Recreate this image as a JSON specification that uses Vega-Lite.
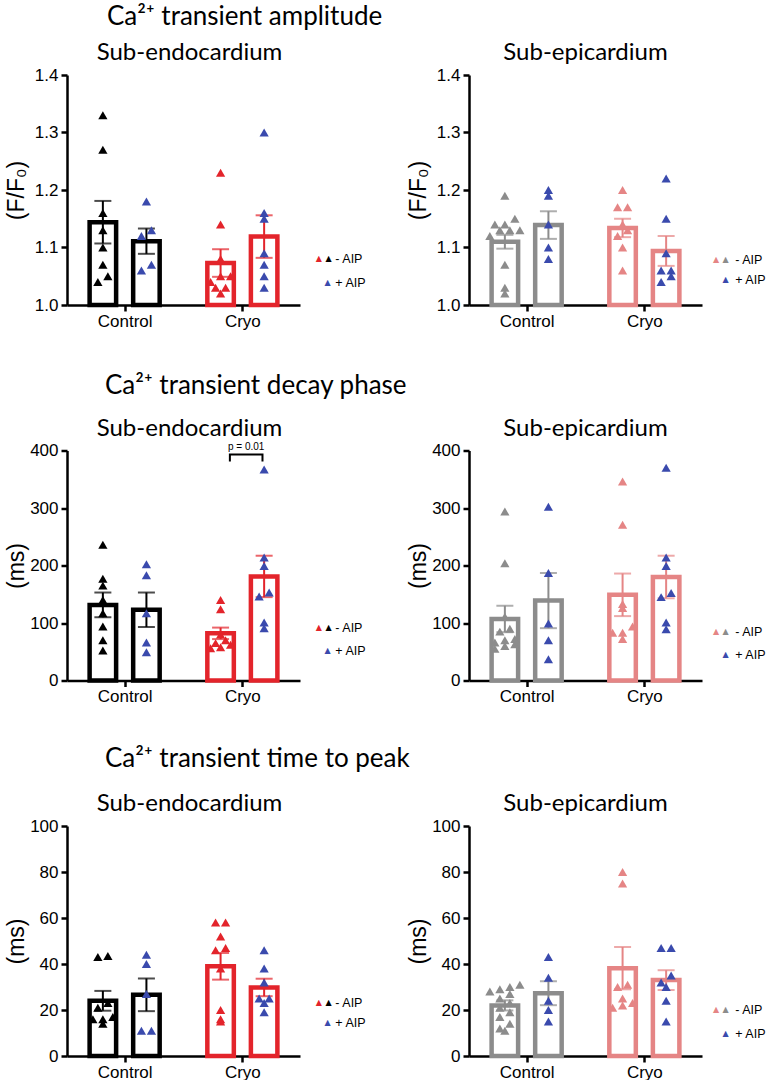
{
"$schema": "https://vega.github.io/schema/vega-lite/v6.json",
"background": "white",
"padding": {"left": 5, "top": 4, "right": 0, "bottom": 0},
"bounds": "flush",
"spacing": 375.5,
"config": {
  "view": {"stroke": null},
  "font": "Liberation Sans",
  "axis": {"grid": false, "domainColor": "#000", "domainWidth": 2.5, "tickColor": "#000", "tickWidth": 2.5, "tickSize": 6, "labelColor": "#000", "labelFont": "Liberation Sans", "labelFontSize": 17, "titleColor": "#000", "titleFont": "Liberation Sans", "titleFontSize": 23, "titleFontWeight": "normal"},
  "axisX": {"labelAngle": 0, "labelPadding": 2},
  "axisY": {"labelPadding": 3, "titlePadding": 1, "minExtent": 38, "maxExtent": 38},
  "title": {"font": "Lato", "fontSize": 24, "fontWeight": "normal", "color": "#000", "offset": 1}
},
"datasets": {
  "bars": [
    {"measure":"amp","region":"endo","group":"Control","aip":"-AIP","mean":1.144,"sem":0.037},
    {"measure":"amp","region":"endo","group":"Control","aip":"+AIP","mean":1.111,"sem":0.022},
    {"measure":"amp","region":"endo","group":"Cryo","aip":"-AIP","mean":1.073,"sem":0.024},
    {"measure":"amp","region":"endo","group":"Cryo","aip":"+AIP","mean":1.119,"sem":0.037},
    {"measure":"amp","region":"epi","group":"Control","aip":"-AIP","mean":1.110,"sem":0.012},
    {"measure":"amp","region":"epi","group":"Control","aip":"+AIP","mean":1.139,"sem":0.024},
    {"measure":"amp","region":"epi","group":"Cryo","aip":"-AIP","mean":1.134,"sem":0.016},
    {"measure":"amp","region":"epi","group":"Cryo","aip":"+AIP","mean":1.094,"sem":0.026},
    {"measure":"decay","region":"endo","group":"Control","aip":"-AIP","mean":131.5,"sem":21.5},
    {"measure":"decay","region":"endo","group":"Control","aip":"+AIP","mean":123,"sem":30},
    {"measure":"decay","region":"endo","group":"Cryo","aip":"-AIP","mean":82,"sem":10},
    {"measure":"decay","region":"endo","group":"Cryo","aip":"+AIP","mean":181,"sem":36},
    {"measure":"decay","region":"epi","group":"Control","aip":"-AIP","mean":107,"sem":23},
    {"measure":"decay","region":"epi","group":"Control","aip":"+AIP","mean":139,"sem":48},
    {"measure":"decay","region":"epi","group":"Cryo","aip":"-AIP","mean":149,"sem":37},
    {"measure":"decay","region":"epi","group":"Cryo","aip":"+AIP","mean":180,"sem":37},
    {"measure":"ttp","region":"endo","group":"Control","aip":"-AIP","mean":24,"sem":4.3},
    {"measure":"ttp","region":"endo","group":"Control","aip":"+AIP","mean":26.6,"sem":7.1},
    {"measure":"ttp","region":"endo","group":"Cryo","aip":"-AIP","mean":39,"sem":5.8},
    {"measure":"ttp","region":"endo","group":"Cryo","aip":"+AIP","mean":29.8,"sem":3.8},
    {"measure":"ttp","region":"epi","group":"Control","aip":"-AIP","mean":22,"sem":2.2},
    {"measure":"ttp","region":"epi","group":"Control","aip":"+AIP","mean":27.3,"sem":5.2},
    {"measure":"ttp","region":"epi","group":"Cryo","aip":"-AIP","mean":38.2,"sem":9.2},
    {"measure":"ttp","region":"epi","group":"Cryo","aip":"+AIP","mean":33,"sem":4.3}
  ],
  "bracket": [
    {"aip":"-AIP","value":381,"order":1},
    {"aip":"-AIP","value":393,"order":2},
    {"aip":"+AIP","value":393,"order":3},
    {"aip":"+AIP","value":381,"order":4}
  ],
  "points": [
    {"measure":"amp","region":"endo","group":"Control","aip":"-AIP","value":1.33},
    {"measure":"amp","region":"endo","group":"Control","aip":"-AIP","value":1.27},
    {"measure":"amp","region":"endo","group":"Control","aip":"-AIP","value":1.16},
    {"measure":"amp","region":"endo","group":"Control","aip":"-AIP","value":1.13},
    {"measure":"amp","region":"endo","group":"Control","aip":"-AIP","value":1.10},
    {"measure":"amp","region":"endo","group":"Control","aip":"-AIP","value":1.07},
    {"measure":"amp","region":"endo","group":"Control","aip":"-AIP","value":1.04},
    {"measure":"amp","region":"endo","group":"Control","aip":"-AIP","value":1.05},
    {"measure":"amp","region":"endo","group":"Control","aip":"+AIP","value":1.18},
    {"measure":"amp","region":"endo","group":"Control","aip":"+AIP","value":1.12},
    {"measure":"amp","region":"endo","group":"Control","aip":"+AIP","value":1.13},
    {"measure":"amp","region":"endo","group":"Control","aip":"+AIP","value":1.06},
    {"measure":"amp","region":"endo","group":"Control","aip":"+AIP","value":1.07},
    {"measure":"amp","region":"endo","group":"Cryo","aip":"-AIP","value":1.23},
    {"measure":"amp","region":"endo","group":"Cryo","aip":"-AIP","value":1.14},
    {"measure":"amp","region":"endo","group":"Cryo","aip":"-AIP","value":1.08},
    {"measure":"amp","region":"endo","group":"Cryo","aip":"-AIP","value":1.05},
    {"measure":"amp","region":"endo","group":"Cryo","aip":"-AIP","value":1.05},
    {"measure":"amp","region":"endo","group":"Cryo","aip":"-AIP","value":1.04},
    {"measure":"amp","region":"endo","group":"Cryo","aip":"-AIP","value":1.03},
    {"measure":"amp","region":"endo","group":"Cryo","aip":"-AIP","value":1.03},
    {"measure":"amp","region":"endo","group":"Cryo","aip":"-AIP","value":1.02},
    {"measure":"amp","region":"endo","group":"Cryo","aip":"+AIP","value":1.30},
    {"measure":"amp","region":"endo","group":"Cryo","aip":"+AIP","value":1.15},
    {"measure":"amp","region":"endo","group":"Cryo","aip":"+AIP","value":1.16},
    {"measure":"amp","region":"endo","group":"Cryo","aip":"+AIP","value":1.09},
    {"measure":"amp","region":"endo","group":"Cryo","aip":"+AIP","value":1.07},
    {"measure":"amp","region":"endo","group":"Cryo","aip":"+AIP","value":1.05},
    {"measure":"amp","region":"endo","group":"Cryo","aip":"+AIP","value":1.03},
    {"measure":"amp","region":"epi","group":"Control","aip":"-AIP","value":1.19},
    {"measure":"amp","region":"epi","group":"Control","aip":"-AIP","value":1.15},
    {"measure":"amp","region":"epi","group":"Control","aip":"-AIP","value":1.14},
    {"measure":"amp","region":"epi","group":"Control","aip":"-AIP","value":1.14},
    {"measure":"amp","region":"epi","group":"Control","aip":"-AIP","value":1.13},
    {"measure":"amp","region":"epi","group":"Control","aip":"-AIP","value":1.13},
    {"measure":"amp","region":"epi","group":"Control","aip":"-AIP","value":1.13},
    {"measure":"amp","region":"epi","group":"Control","aip":"-AIP","value":1.12},
    {"measure":"amp","region":"epi","group":"Control","aip":"-AIP","value":1.07},
    {"measure":"amp","region":"epi","group":"Control","aip":"-AIP","value":1.03},
    {"measure":"amp","region":"epi","group":"Control","aip":"-AIP","value":1.02},
    {"measure":"amp","region":"epi","group":"Control","aip":"+AIP","value":1.20},
    {"measure":"amp","region":"epi","group":"Control","aip":"+AIP","value":1.19},
    {"measure":"amp","region":"epi","group":"Control","aip":"+AIP","value":1.14},
    {"measure":"amp","region":"epi","group":"Control","aip":"+AIP","value":1.10},
    {"measure":"amp","region":"epi","group":"Control","aip":"+AIP","value":1.08},
    {"measure":"amp","region":"epi","group":"Cryo","aip":"-AIP","value":1.20},
    {"measure":"amp","region":"epi","group":"Cryo","aip":"-AIP","value":1.17},
    {"measure":"amp","region":"epi","group":"Cryo","aip":"-AIP","value":1.17},
    {"measure":"amp","region":"epi","group":"Cryo","aip":"-AIP","value":1.14},
    {"measure":"amp","region":"epi","group":"Cryo","aip":"-AIP","value":1.13},
    {"measure":"amp","region":"epi","group":"Cryo","aip":"-AIP","value":1.12},
    {"measure":"amp","region":"epi","group":"Cryo","aip":"-AIP","value":1.10},
    {"measure":"amp","region":"epi","group":"Cryo","aip":"-AIP","value":1.06},
    {"measure":"amp","region":"epi","group":"Cryo","aip":"+AIP","value":1.22},
    {"measure":"amp","region":"epi","group":"Cryo","aip":"+AIP","value":1.15},
    {"measure":"amp","region":"epi","group":"Cryo","aip":"+AIP","value":1.09},
    {"measure":"amp","region":"epi","group":"Cryo","aip":"+AIP","value":1.06},
    {"measure":"amp","region":"epi","group":"Cryo","aip":"+AIP","value":1.06},
    {"measure":"amp","region":"epi","group":"Cryo","aip":"+AIP","value":1.05},
    {"measure":"amp","region":"epi","group":"Cryo","aip":"+AIP","value":1.04},
    {"measure":"decay","region":"endo","group":"Control","aip":"-AIP","value":236},
    {"measure":"decay","region":"endo","group":"Control","aip":"-AIP","value":177},
    {"measure":"decay","region":"endo","group":"Control","aip":"-AIP","value":165},
    {"measure":"decay","region":"endo","group":"Control","aip":"-AIP","value":140},
    {"measure":"decay","region":"endo","group":"Control","aip":"-AIP","value":117},
    {"measure":"decay","region":"endo","group":"Control","aip":"-AIP","value":94},
    {"measure":"decay","region":"endo","group":"Control","aip":"-AIP","value":70},
    {"measure":"decay","region":"endo","group":"Control","aip":"-AIP","value":52},
    {"measure":"decay","region":"endo","group":"Control","aip":"+AIP","value":202},
    {"measure":"decay","region":"endo","group":"Control","aip":"+AIP","value":183},
    {"measure":"decay","region":"endo","group":"Control","aip":"+AIP","value":117},
    {"measure":"decay","region":"endo","group":"Control","aip":"+AIP","value":66},
    {"measure":"decay","region":"endo","group":"Control","aip":"+AIP","value":49},
    {"measure":"decay","region":"endo","group":"Cryo","aip":"-AIP","value":140},
    {"measure":"decay","region":"endo","group":"Cryo","aip":"-AIP","value":124},
    {"measure":"decay","region":"endo","group":"Cryo","aip":"-AIP","value":80},
    {"measure":"decay","region":"endo","group":"Cryo","aip":"-AIP","value":70},
    {"measure":"decay","region":"endo","group":"Cryo","aip":"-AIP","value":65},
    {"measure":"decay","region":"endo","group":"Cryo","aip":"-AIP","value":62},
    {"measure":"decay","region":"endo","group":"Cryo","aip":"-AIP","value":58},
    {"measure":"decay","region":"endo","group":"Cryo","aip":"-AIP","value":56},
    {"measure":"decay","region":"endo","group":"Cryo","aip":"+AIP","value":367},
    {"measure":"decay","region":"endo","group":"Cryo","aip":"+AIP","value":214},
    {"measure":"decay","region":"endo","group":"Cryo","aip":"+AIP","value":199},
    {"measure":"decay","region":"endo","group":"Cryo","aip":"+AIP","value":153},
    {"measure":"decay","region":"endo","group":"Cryo","aip":"+AIP","value":146},
    {"measure":"decay","region":"endo","group":"Cryo","aip":"+AIP","value":101},
    {"measure":"decay","region":"endo","group":"Cryo","aip":"+AIP","value":91},
    {"measure":"decay","region":"epi","group":"Control","aip":"-AIP","value":294},
    {"measure":"decay","region":"epi","group":"Control","aip":"-AIP","value":204},
    {"measure":"decay","region":"epi","group":"Control","aip":"-AIP","value":111},
    {"measure":"decay","region":"epi","group":"Control","aip":"-AIP","value":90},
    {"measure":"decay","region":"epi","group":"Control","aip":"-AIP","value":85},
    {"measure":"decay","region":"epi","group":"Control","aip":"-AIP","value":72},
    {"measure":"decay","region":"epi","group":"Control","aip":"-AIP","value":70},
    {"measure":"decay","region":"epi","group":"Control","aip":"-AIP","value":66},
    {"measure":"decay","region":"epi","group":"Control","aip":"-AIP","value":63},
    {"measure":"decay","region":"epi","group":"Control","aip":"-AIP","value":60},
    {"measure":"decay","region":"epi","group":"Control","aip":"-AIP","value":55},
    {"measure":"decay","region":"epi","group":"Control","aip":"+AIP","value":302},
    {"measure":"decay","region":"epi","group":"Control","aip":"+AIP","value":187},
    {"measure":"decay","region":"epi","group":"Control","aip":"+AIP","value":99},
    {"measure":"decay","region":"epi","group":"Control","aip":"+AIP","value":70},
    {"measure":"decay","region":"epi","group":"Control","aip":"+AIP","value":37},
    {"measure":"decay","region":"epi","group":"Cryo","aip":"-AIP","value":346},
    {"measure":"decay","region":"epi","group":"Cryo","aip":"-AIP","value":271},
    {"measure":"decay","region":"epi","group":"Cryo","aip":"-AIP","value":133},
    {"measure":"decay","region":"epi","group":"Cryo","aip":"-AIP","value":126},
    {"measure":"decay","region":"epi","group":"Cryo","aip":"-AIP","value":94},
    {"measure":"decay","region":"epi","group":"Cryo","aip":"-AIP","value":83},
    {"measure":"decay","region":"epi","group":"Cryo","aip":"-AIP","value":83},
    {"measure":"decay","region":"epi","group":"Cryo","aip":"-AIP","value":72},
    {"measure":"decay","region":"epi","group":"Cryo","aip":"+AIP","value":370},
    {"measure":"decay","region":"epi","group":"Cryo","aip":"+AIP","value":214},
    {"measure":"decay","region":"epi","group":"Cryo","aip":"+AIP","value":199},
    {"measure":"decay","region":"epi","group":"Cryo","aip":"+AIP","value":152},
    {"measure":"decay","region":"epi","group":"Cryo","aip":"+AIP","value":145},
    {"measure":"decay","region":"epi","group":"Cryo","aip":"+AIP","value":101},
    {"measure":"decay","region":"epi","group":"Cryo","aip":"+AIP","value":89},
    {"measure":"ttp","region":"endo","group":"Control","aip":"-AIP","value":43},
    {"measure":"ttp","region":"endo","group":"Control","aip":"-AIP","value":43.5},
    {"measure":"ttp","region":"endo","group":"Control","aip":"-AIP","value":23},
    {"measure":"ttp","region":"endo","group":"Control","aip":"-AIP","value":21},
    {"measure":"ttp","region":"endo","group":"Control","aip":"-AIP","value":17},
    {"measure":"ttp","region":"endo","group":"Control","aip":"-AIP","value":16},
    {"measure":"ttp","region":"endo","group":"Control","aip":"-AIP","value":16},
    {"measure":"ttp","region":"endo","group":"Control","aip":"-AIP","value":14},
    {"measure":"ttp","region":"endo","group":"Control","aip":"+AIP","value":44},
    {"measure":"ttp","region":"endo","group":"Control","aip":"+AIP","value":40},
    {"measure":"ttp","region":"endo","group":"Control","aip":"+AIP","value":27},
    {"measure":"ttp","region":"endo","group":"Control","aip":"+AIP","value":11},
    {"measure":"ttp","region":"endo","group":"Control","aip":"+AIP","value":11},
    {"measure":"ttp","region":"endo","group":"Cryo","aip":"-AIP","value":58},
    {"measure":"ttp","region":"endo","group":"Cryo","aip":"-AIP","value":58},
    {"measure":"ttp","region":"endo","group":"Cryo","aip":"-AIP","value":52},
    {"measure":"ttp","region":"endo","group":"Cryo","aip":"-AIP","value":47},
    {"measure":"ttp","region":"endo","group":"Cryo","aip":"-AIP","value":46},
    {"measure":"ttp","region":"endo","group":"Cryo","aip":"-AIP","value":38},
    {"measure":"ttp","region":"endo","group":"Cryo","aip":"-AIP","value":20},
    {"measure":"ttp","region":"endo","group":"Cryo","aip":"-AIP","value":16},
    {"measure":"ttp","region":"endo","group":"Cryo","aip":"-AIP","value":15},
    {"measure":"ttp","region":"endo","group":"Cryo","aip":"+AIP","value":46},
    {"measure":"ttp","region":"endo","group":"Cryo","aip":"+AIP","value":38},
    {"measure":"ttp","region":"endo","group":"Cryo","aip":"+AIP","value":32},
    {"measure":"ttp","region":"endo","group":"Cryo","aip":"+AIP","value":25},
    {"measure":"ttp","region":"endo","group":"Cryo","aip":"+AIP","value":25},
    {"measure":"ttp","region":"endo","group":"Cryo","aip":"+AIP","value":23},
    {"measure":"ttp","region":"endo","group":"Cryo","aip":"+AIP","value":19},
    {"measure":"ttp","region":"epi","group":"Control","aip":"-AIP","value":31},
    {"measure":"ttp","region":"epi","group":"Control","aip":"-AIP","value":30},
    {"measure":"ttp","region":"epi","group":"Control","aip":"-AIP","value":29},
    {"measure":"ttp","region":"epi","group":"Control","aip":"-AIP","value":28},
    {"measure":"ttp","region":"epi","group":"Control","aip":"-AIP","value":27},
    {"measure":"ttp","region":"epi","group":"Control","aip":"-AIP","value":25},
    {"measure":"ttp","region":"epi","group":"Control","aip":"-AIP","value":23},
    {"measure":"ttp","region":"epi","group":"Control","aip":"-AIP","value":21},
    {"measure":"ttp","region":"epi","group":"Control","aip":"-AIP","value":19},
    {"measure":"ttp","region":"epi","group":"Control","aip":"-AIP","value":17},
    {"measure":"ttp","region":"epi","group":"Control","aip":"-AIP","value":14},
    {"measure":"ttp","region":"epi","group":"Control","aip":"-AIP","value":12},
    {"measure":"ttp","region":"epi","group":"Control","aip":"-AIP","value":11},
    {"measure":"ttp","region":"epi","group":"Control","aip":"+AIP","value":43},
    {"measure":"ttp","region":"epi","group":"Control","aip":"+AIP","value":34},
    {"measure":"ttp","region":"epi","group":"Control","aip":"+AIP","value":24},
    {"measure":"ttp","region":"epi","group":"Control","aip":"+AIP","value":20},
    {"measure":"ttp","region":"epi","group":"Control","aip":"+AIP","value":15},
    {"measure":"ttp","region":"epi","group":"Cryo","aip":"-AIP","value":80},
    {"measure":"ttp","region":"epi","group":"Cryo","aip":"-AIP","value":75},
    {"measure":"ttp","region":"epi","group":"Cryo","aip":"-AIP","value":31},
    {"measure":"ttp","region":"epi","group":"Cryo","aip":"-AIP","value":30},
    {"measure":"ttp","region":"epi","group":"Cryo","aip":"-AIP","value":25},
    {"measure":"ttp","region":"epi","group":"Cryo","aip":"-AIP","value":23},
    {"measure":"ttp","region":"epi","group":"Cryo","aip":"-AIP","value":22},
    {"measure":"ttp","region":"epi","group":"Cryo","aip":"-AIP","value":21},
    {"measure":"ttp","region":"epi","group":"Cryo","aip":"+AIP","value":47},
    {"measure":"ttp","region":"epi","group":"Cryo","aip":"+AIP","value":47},
    {"measure":"ttp","region":"epi","group":"Cryo","aip":"+AIP","value":35},
    {"measure":"ttp","region":"epi","group":"Cryo","aip":"+AIP","value":32},
    {"measure":"ttp","region":"epi","group":"Cryo","aip":"+AIP","value":30},
    {"measure":"ttp","region":"epi","group":"Cryo","aip":"+AIP","value":24},
    {"measure":"ttp","region":"epi","group":"Cryo","aip":"+AIP","value":15}
  ]
},
"vconcat": [
  {
    "title": {"text": "Ca²⁺ transient amplitude", "anchor": "start", "frame": "group", "dx": 40, "fontSize": 26, "offset": 11},
    "bounds": "flush",
    "spacing": 169,
    "hconcat": [
      {
        "width": 233, "height": 230,
        "title": {"text": "Sub-endocardium", "frame": "group", "dx": 6},
        "layer": [
          {"data": {"name": "bars"},
           "transform": [{"filter": "datum.measure==='amp'&&datum.region==='endo'"}, {"calculate": "datum.region+'-'+datum.group", "as": "series"}, {"calculate": "(datum.group==='Cryo'?1:0)+(datum.aip==='+AIP'?0.185:-0.185)", "as": "pos"}],
           "mark": {"type": "bar", "orient": "vertical", "fill": "white", "strokeWidth": 4.5, "width": 26.5},
           "encoding": {
             "x": {"field": "pos", "type": "quantitative", "scale": {"domain": [-0.4472, 1.4472], "nice": false, "zero": false}, "axis": {"title": null, "values": [0, 1], "labelExpr": "datum.value===0?'Control':'Cryo'"}},
             "y": {"field": "mean", "type": "quantitative", "scale": {"domain": [1, 1.4], "nice": false, "zero": false}, "axis": {"title": "(F/F₀)", "values": [1, 1.1, 1.2, 1.3, 1.4], "format": ".1f"}},
             "y2": {"datum": 1},
             "stroke": {"field": "series", "type": "nominal", "scale": {"domain": ["endo-Control", "endo-Cryo", "epi-Control", "epi-Cryo"], "range": ["#000000", "#e3242b", "#8c8c8c", "#e58585"]}, "legend": null}
           }},
          {"data": {"name": "bars"},
           "transform": [{"filter": "datum.measure==='amp'&&datum.region==='endo'"}, {"calculate": "datum.region+'-'+datum.group", "as": "series"}, {"calculate": "(datum.group==='Cryo'?1:0)+(datum.aip==='+AIP'?0.185:-0.185)", "as": "pos"}],
           "mark": {"type": "errorbar", "ticks": true, "size": 17, "thickness": 2},
           "encoding": {
             "x": {"field": "pos", "type": "quantitative", "title": null},
             "y": {"field": "mean", "type": "quantitative", "title": "(F/F₀)"},
             "yError": {"field": "sem"},
             "color": {"field": "series", "type": "nominal", "scale": {"domain": ["endo-Control", "endo-Cryo", "epi-Control", "epi-Cryo", "+AIP"], "range": ["#000000", "#e3242b", "#8c8c8c", "#e58585", "#3a4aad"]}, "legend": null}
           }},
          {"data": {"name": "points"},
           "transform": [
             {"filter": "datum.measure==='amp'&&datum.region==='endo'"},
             {"calculate": "floor(datum.value/0.016)", "as": "bin"},
             {"joinaggregate": [{"op": "count", "as": "n"}], "groupby": ["group", "aip", "bin"]},
             {"window": [{"op": "row_number", "as": "k"}], "groupby": ["group", "aip", "bin"], "sort": [{"field": "value", "order": "ascending"}]},
             {"calculate": "(datum.group==='Cryo'?1:0)+(datum.aip==='+AIP'?0.185:-0.185)+(datum.k-(datum.n+1)/2)*0.085", "as": "px"},
             {"calculate": "datum.aip==='+AIP'?'+AIP':datum.region+'-'+datum.group", "as": "series"}
           ],
           "mark": {"type": "point", "shape": "triangle-up", "filled": true, "size": 85, "opacity": 1},
           "encoding": {
             "x": {"field": "px", "type": "quantitative", "title": null},
             "y": {"field": "value", "type": "quantitative", "title": "(F/F₀)"},
             "color": {"field": "series", "type": "nominal", "legend": null}
           }},
          {"data": {"values": [{}]}, "mark": {"type": "text", "text": "▲", "font": "DejaVu Sans", "fontSize": 8, "color": "#e3242b"}, "encoding": {"x": {"datum": 1.65}, "y": {"datum": 1.08}}},
          {"data": {"values": [{}]}, "mark": {"type": "text", "text": "▲", "font": "DejaVu Sans", "fontSize": 8, "color": "#000000"}, "encoding": {"x": {"datum": 1.732}, "y": {"datum": 1.08}}},
          {"data": {"values": [{}]}, "mark": {"type": "text", "text": "- AIP", "fontSize": 12.5, "align": "left", "color": "#000000"}, "encoding": {"x": {"datum": 1.79}, "y": {"datum": 1.08}}},
          {"data": {"values": [{}]}, "mark": {"type": "text", "text": "▲", "font": "DejaVu Sans", "fontSize": 8, "color": "#3a4aad"}, "encoding": {"x": {"datum": 1.724}, "y": {"datum": 1.038}}},
          {"data": {"values": [{}]}, "mark": {"type": "text", "text": "+ AIP", "fontSize": 12.5, "align": "left", "color": "#000000"}, "encoding": {"x": {"datum": 1.79}, "y": {"datum": 1.038}}}
        ]
      },
      {
        "width": 233, "height": 230,
        "title": {"text": "Sub-epicardium", "frame": "group"},
        "layer": [
          {"data": {"name": "bars"},
           "transform": [{"filter": "datum.measure==='amp'&&datum.region==='epi'"}, {"calculate": "datum.region+'-'+datum.group", "as": "series"}, {"calculate": "(datum.group==='Cryo'?1:0)+(datum.aip==='+AIP'?0.185:-0.185)", "as": "pos"}],
           "mark": {"type": "bar", "orient": "vertical", "fill": "white", "strokeWidth": 4.5, "width": 26.5},
           "encoding": {
             "x": {"field": "pos", "type": "quantitative", "scale": {"domain": [-0.4472, 1.4472], "nice": false, "zero": false}, "axis": {"title": null, "values": [0, 1], "labelExpr": "datum.value===0?'Control':'Cryo'"}},
             "y": {"field": "mean", "type": "quantitative", "scale": {"domain": [1, 1.4], "nice": false, "zero": false}, "axis": {"title": "(F/F₀)", "values": [1, 1.1, 1.2, 1.3, 1.4], "format": ".1f"}},
             "y2": {"datum": 1},
             "stroke": {"field": "series", "type": "nominal", "scale": {"domain": ["endo-Control", "endo-Cryo", "epi-Control", "epi-Cryo"], "range": ["#000000", "#e3242b", "#8c8c8c", "#e58585"]}, "legend": null}
           }},
          {"data": {"name": "bars"},
           "transform": [{"filter": "datum.measure==='amp'&&datum.region==='epi'"}, {"calculate": "datum.region+'-'+datum.group", "as": "series"}, {"calculate": "(datum.group==='Cryo'?1:0)+(datum.aip==='+AIP'?0.185:-0.185)", "as": "pos"}],
           "mark": {"type": "errorbar", "ticks": true, "size": 17, "thickness": 2},
           "encoding": {
             "x": {"field": "pos", "type": "quantitative", "title": null},
             "y": {"field": "mean", "type": "quantitative", "title": "(F/F₀)"},
             "yError": {"field": "sem"},
             "color": {"field": "series", "type": "nominal", "scale": {"domain": ["endo-Control", "endo-Cryo", "epi-Control", "epi-Cryo", "+AIP"], "range": ["#000000", "#e3242b", "#8c8c8c", "#e58585", "#3a4aad"]}, "legend": null}
           }},
          {"data": {"name": "points"},
           "transform": [
             {"filter": "datum.measure==='amp'&&datum.region==='epi'"},
             {"calculate": "floor(datum.value/0.016)", "as": "bin"},
             {"joinaggregate": [{"op": "count", "as": "n"}], "groupby": ["group", "aip", "bin"]},
             {"window": [{"op": "row_number", "as": "k"}], "groupby": ["group", "aip", "bin"], "sort": [{"field": "value", "order": "ascending"}]},
             {"calculate": "(datum.group==='Cryo'?1:0)+(datum.aip==='+AIP'?0.185:-0.185)+(datum.k-(datum.n+1)/2)*0.085", "as": "px"},
             {"calculate": "datum.aip==='+AIP'?'+AIP':datum.region+'-'+datum.group", "as": "series"}
           ],
           "mark": {"type": "point", "shape": "triangle-up", "filled": true, "size": 85, "opacity": 1},
           "encoding": {
             "x": {"field": "px", "type": "quantitative", "title": null},
             "y": {"field": "value", "type": "quantitative", "title": "(F/F₀)"},
             "color": {"field": "series", "type": "nominal", "legend": null}
           }},
          {"data": {"values": [{}]}, "mark": {"type": "text", "text": "▲", "font": "DejaVu Sans", "fontSize": 8, "color": "#e58585"}, "encoding": {"x": {"datum": 1.61}, "y": {"datum": 1.079}}},
          {"data": {"values": [{}]}, "mark": {"type": "text", "text": "▲", "font": "DejaVu Sans", "fontSize": 8, "color": "#8c8c8c"}, "encoding": {"x": {"datum": 1.691}, "y": {"datum": 1.079}}},
          {"data": {"values": [{}]}, "mark": {"type": "text", "text": "- AIP", "fontSize": 12.5, "align": "left", "color": "#000000"}, "encoding": {"x": {"datum": 1.772}, "y": {"datum": 1.079}}},
          {"data": {"values": [{}]}, "mark": {"type": "text", "text": "▲", "font": "DejaVu Sans", "fontSize": 8, "color": "#3a4aad"}, "encoding": {"x": {"datum": 1.691}, "y": {"datum": 1.043}}},
          {"data": {"values": [{}]}, "mark": {"type": "text", "text": "+ AIP", "fontSize": 12.5, "align": "left", "color": "#000000"}, "encoding": {"x": {"datum": 1.772}, "y": {"datum": 1.043}}}
        ]
      }
    ]
  },
  {
    "title": {"text": "Ca²⁺ transient decay phase", "anchor": "start", "frame": "group", "dx": 38, "fontSize": 26, "offset": 18},
    "bounds": "flush",
    "spacing": 169,
    "hconcat": [
      {
        "width": 233, "height": 230,
        "title": {"text": "Sub-endocardium", "frame": "group", "dx": 6},
        "layer": [
          {"data": {"name": "bars"},
           "transform": [{"filter": "datum.measure==='decay'&&datum.region==='endo'"}, {"calculate": "datum.region+'-'+datum.group", "as": "series"}, {"calculate": "(datum.group==='Cryo'?1:0)+(datum.aip==='+AIP'?0.185:-0.185)", "as": "pos"}],
           "mark": {"type": "bar", "orient": "vertical", "fill": "white", "strokeWidth": 4.5, "width": 26.5},
           "encoding": {
             "x": {"field": "pos", "type": "quantitative", "scale": {"domain": [-0.4472, 1.4472], "nice": false, "zero": false}, "axis": {"title": null, "values": [0, 1], "labelExpr": "datum.value===0?'Control':'Cryo'"}},
             "y": {"field": "mean", "type": "quantitative", "scale": {"domain": [0, 400], "nice": false}, "axis": {"title": "(ms)", "values": [0, 100, 200, 300, 400]}},
             "stroke": {"field": "series", "type": "nominal", "scale": {"domain": ["endo-Control", "endo-Cryo", "epi-Control", "epi-Cryo"], "range": ["#000000", "#e3242b", "#8c8c8c", "#e58585"]}, "legend": null}
           }},
          {"data": {"name": "bars"},
           "transform": [{"filter": "datum.measure==='decay'&&datum.region==='endo'"}, {"calculate": "datum.region+'-'+datum.group", "as": "series"}, {"calculate": "(datum.group==='Cryo'?1:0)+(datum.aip==='+AIP'?0.185:-0.185)", "as": "pos"}],
           "mark": {"type": "errorbar", "ticks": true, "size": 17, "thickness": 2},
           "encoding": {
             "x": {"field": "pos", "type": "quantitative", "title": null},
             "y": {"field": "mean", "type": "quantitative", "title": "(ms)"},
             "yError": {"field": "sem"},
             "color": {"field": "series", "type": "nominal", "scale": {"domain": ["endo-Control", "endo-Cryo", "epi-Control", "epi-Cryo", "+AIP"], "range": ["#000000", "#e3242b", "#8c8c8c", "#e58585", "#3a4aad"]}, "legend": null}
           }},
          {"data": {"name": "points"},
           "transform": [
             {"filter": "datum.measure==='decay'&&datum.region==='endo'"},
             {"calculate": "floor(datum.value/16)", "as": "bin"},
             {"joinaggregate": [{"op": "count", "as": "n"}], "groupby": ["group", "aip", "bin"]},
             {"window": [{"op": "row_number", "as": "k"}], "groupby": ["group", "aip", "bin"], "sort": [{"field": "value", "order": "ascending"}]},
             {"calculate": "(datum.group==='Cryo'?1:0)+(datum.aip==='+AIP'?0.185:-0.185)+(datum.k-(datum.n+1)/2)*0.085", "as": "px"},
             {"calculate": "datum.aip==='+AIP'?'+AIP':datum.region+'-'+datum.group", "as": "series"}
           ],
           "mark": {"type": "point", "shape": "triangle-up", "filled": true, "size": 85, "opacity": 1},
           "encoding": {
             "x": {"field": "px", "type": "quantitative", "title": null},
             "y": {"field": "value", "type": "quantitative", "title": "(ms)"},
             "color": {"field": "series", "type": "nominal", "legend": null}
           }},
          {"data": {"name": "bracket"},
           "transform": [{"calculate": "datum.aip==='-AIP'?0.894:1.171", "as": "px"}],
           "mark": {"type": "line", "color": "#000000", "strokeWidth": 2},
           "encoding": {
             "x": {"field": "px", "type": "quantitative", "title": null},
             "y": {"field": "value", "type": "quantitative", "title": "(ms)"},
             "order": {"field": "order", "type": "quantitative"}
           }},
          {"data": {"values": [{}]}, "mark": {"type": "text", "text": "p = 0.01", "fontSize": 10, "color": "#000000"}, "encoding": {"x": {"datum": 1.032}, "y": {"datum": 406}}},
          {"data": {"values": [{}]}, "mark": {"type": "text", "text": "▲", "font": "DejaVu Sans", "fontSize": 8, "color": "#e3242b"}, "encoding": {"x": {"datum": 1.65}, "y": {"datum": 92}}},
          {"data": {"values": [{}]}, "mark": {"type": "text", "text": "▲", "font": "DejaVu Sans", "fontSize": 8, "color": "#000000"}, "encoding": {"x": {"datum": 1.732}, "y": {"datum": 92}}},
          {"data": {"values": [{}]}, "mark": {"type": "text", "text": "- AIP", "fontSize": 12.5, "align": "left", "color": "#000000"}, "encoding": {"x": {"datum": 1.79}, "y": {"datum": 92}}},
          {"data": {"values": [{}]}, "mark": {"type": "text", "text": "▲", "font": "DejaVu Sans", "fontSize": 8, "color": "#3a4aad"}, "encoding": {"x": {"datum": 1.724}, "y": {"datum": 52}}},
          {"data": {"values": [{}]}, "mark": {"type": "text", "text": "+ AIP", "fontSize": 12.5, "align": "left", "color": "#000000"}, "encoding": {"x": {"datum": 1.79}, "y": {"datum": 52}}}
        ]
      },
      {
        "width": 233, "height": 230,
        "title": {"text": "Sub-epicardium", "frame": "group"},
        "layer": [
          {"data": {"name": "bars"},
           "transform": [{"filter": "datum.measure==='decay'&&datum.region==='epi'"}, {"calculate": "datum.region+'-'+datum.group", "as": "series"}, {"calculate": "(datum.group==='Cryo'?1:0)+(datum.aip==='+AIP'?0.185:-0.185)", "as": "pos"}],
           "mark": {"type": "bar", "orient": "vertical", "fill": "white", "strokeWidth": 4.5, "width": 26.5},
           "encoding": {
             "x": {"field": "pos", "type": "quantitative", "scale": {"domain": [-0.4472, 1.4472], "nice": false, "zero": false}, "axis": {"title": null, "values": [0, 1], "labelExpr": "datum.value===0?'Control':'Cryo'"}},
             "y": {"field": "mean", "type": "quantitative", "scale": {"domain": [0, 400], "nice": false}, "axis": {"title": "(ms)", "values": [0, 100, 200, 300, 400]}},
             "stroke": {"field": "series", "type": "nominal", "scale": {"domain": ["endo-Control", "endo-Cryo", "epi-Control", "epi-Cryo"], "range": ["#000000", "#e3242b", "#8c8c8c", "#e58585"]}, "legend": null}
           }},
          {"data": {"name": "bars"},
           "transform": [{"filter": "datum.measure==='decay'&&datum.region==='epi'"}, {"calculate": "datum.region+'-'+datum.group", "as": "series"}, {"calculate": "(datum.group==='Cryo'?1:0)+(datum.aip==='+AIP'?0.185:-0.185)", "as": "pos"}],
           "mark": {"type": "errorbar", "ticks": true, "size": 17, "thickness": 2},
           "encoding": {
             "x": {"field": "pos", "type": "quantitative", "title": null},
             "y": {"field": "mean", "type": "quantitative", "title": "(ms)"},
             "yError": {"field": "sem"},
             "color": {"field": "series", "type": "nominal", "scale": {"domain": ["endo-Control", "endo-Cryo", "epi-Control", "epi-Cryo", "+AIP"], "range": ["#000000", "#e3242b", "#8c8c8c", "#e58585", "#3a4aad"]}, "legend": null}
           }},
          {"data": {"name": "points"},
           "transform": [
             {"filter": "datum.measure==='decay'&&datum.region==='epi'"},
             {"calculate": "floor(datum.value/16)", "as": "bin"},
             {"joinaggregate": [{"op": "count", "as": "n"}], "groupby": ["group", "aip", "bin"]},
             {"window": [{"op": "row_number", "as": "k"}], "groupby": ["group", "aip", "bin"], "sort": [{"field": "value", "order": "ascending"}]},
             {"calculate": "(datum.group==='Cryo'?1:0)+(datum.aip==='+AIP'?0.185:-0.185)+(datum.k-(datum.n+1)/2)*0.085", "as": "px"},
             {"calculate": "datum.aip==='+AIP'?'+AIP':datum.region+'-'+datum.group", "as": "series"}
           ],
           "mark": {"type": "point", "shape": "triangle-up", "filled": true, "size": 85, "opacity": 1},
           "encoding": {
             "x": {"field": "px", "type": "quantitative", "title": null},
             "y": {"field": "value", "type": "quantitative", "title": "(ms)"},
             "color": {"field": "series", "type": "nominal", "legend": null}
           }},
          {"data": {"values": [{}]}, "mark": {"type": "text", "text": "▲", "font": "DejaVu Sans", "fontSize": 8, "color": "#e58585"}, "encoding": {"x": {"datum": 1.61}, "y": {"datum": 84}}},
          {"data": {"values": [{}]}, "mark": {"type": "text", "text": "▲", "font": "DejaVu Sans", "fontSize": 8, "color": "#8c8c8c"}, "encoding": {"x": {"datum": 1.691}, "y": {"datum": 84}}},
          {"data": {"values": [{}]}, "mark": {"type": "text", "text": "- AIP", "fontSize": 12.5, "align": "left", "color": "#000000"}, "encoding": {"x": {"datum": 1.772}, "y": {"datum": 84}}},
          {"data": {"values": [{}]}, "mark": {"type": "text", "text": "▲", "font": "DejaVu Sans", "fontSize": 8, "color": "#3a4aad"}, "encoding": {"x": {"datum": 1.691}, "y": {"datum": 44}}},
          {"data": {"values": [{}]}, "mark": {"type": "text", "text": "+ AIP", "fontSize": 12.5, "align": "left", "color": "#000000"}, "encoding": {"x": {"datum": 1.772}, "y": {"datum": 44}}}
        ]
      }
    ]
  },
  {
    "title": {"text": "Ca²⁺ transient time to peak", "anchor": "start", "frame": "group", "dx": 38, "fontSize": 26, "offset": 20},
    "bounds": "flush",
    "spacing": 169,
    "hconcat": [
      {
        "width": 233, "height": 230,
        "title": {"text": "Sub-endocardium", "frame": "group", "dx": 6},
        "layer": [
          {"data": {"name": "bars"},
           "transform": [{"filter": "datum.measure==='ttp'&&datum.region==='endo'"}, {"calculate": "datum.region+'-'+datum.group", "as": "series"}, {"calculate": "(datum.group==='Cryo'?1:0)+(datum.aip==='+AIP'?0.185:-0.185)", "as": "pos"}],
           "mark": {"type": "bar", "orient": "vertical", "fill": "white", "strokeWidth": 4.5, "width": 26.5},
           "encoding": {
             "x": {"field": "pos", "type": "quantitative", "scale": {"domain": [-0.4472, 1.4472], "nice": false, "zero": false}, "axis": {"title": null, "values": [0, 1], "labelExpr": "datum.value===0?'Control':'Cryo'"}},
             "y": {"field": "mean", "type": "quantitative", "scale": {"domain": [0, 100], "nice": false}, "axis": {"title": "(ms)", "values": [0, 20, 40, 60, 80, 100]}},
             "stroke": {"field": "series", "type": "nominal", "scale": {"domain": ["endo-Control", "endo-Cryo", "epi-Control", "epi-Cryo"], "range": ["#000000", "#e3242b", "#8c8c8c", "#e58585"]}, "legend": null}
           }},
          {"data": {"name": "bars"},
           "transform": [{"filter": "datum.measure==='ttp'&&datum.region==='endo'"}, {"calculate": "datum.region+'-'+datum.group", "as": "series"}, {"calculate": "(datum.group==='Cryo'?1:0)+(datum.aip==='+AIP'?0.185:-0.185)", "as": "pos"}],
           "mark": {"type": "errorbar", "ticks": true, "size": 17, "thickness": 2},
           "encoding": {
             "x": {"field": "pos", "type": "quantitative", "title": null},
             "y": {"field": "mean", "type": "quantitative", "title": "(ms)"},
             "yError": {"field": "sem"},
             "color": {"field": "series", "type": "nominal", "scale": {"domain": ["endo-Control", "endo-Cryo", "epi-Control", "epi-Cryo", "+AIP"], "range": ["#000000", "#e3242b", "#8c8c8c", "#e58585", "#3a4aad"]}, "legend": null}
           }},
          {"data": {"name": "points"},
           "transform": [
             {"filter": "datum.measure==='ttp'&&datum.region==='endo'"},
             {"calculate": "floor(datum.value/4)", "as": "bin"},
             {"joinaggregate": [{"op": "count", "as": "n"}], "groupby": ["group", "aip", "bin"]},
             {"window": [{"op": "row_number", "as": "k"}], "groupby": ["group", "aip", "bin"], "sort": [{"field": "value", "order": "ascending"}]},
             {"calculate": "(datum.group==='Cryo'?1:0)+(datum.aip==='+AIP'?0.185:-0.185)+(datum.k-(datum.n+1)/2)*0.085", "as": "px"},
             {"calculate": "datum.aip==='+AIP'?'+AIP':datum.region+'-'+datum.group", "as": "series"}
           ],
           "mark": {"type": "point", "shape": "triangle-up", "filled": true, "size": 85, "opacity": 1},
           "encoding": {
             "x": {"field": "px", "type": "quantitative", "title": null},
             "y": {"field": "value", "type": "quantitative", "title": "(ms)"},
             "color": {"field": "series", "type": "nominal", "legend": null}
           }},
          {"data": {"values": [{}]}, "mark": {"type": "text", "text": "▲", "font": "DejaVu Sans", "fontSize": 8, "color": "#e3242b"}, "encoding": {"x": {"datum": 1.65}, "y": {"datum": 23}}},
          {"data": {"values": [{}]}, "mark": {"type": "text", "text": "▲", "font": "DejaVu Sans", "fontSize": 8, "color": "#000000"}, "encoding": {"x": {"datum": 1.732}, "y": {"datum": 23}}},
          {"data": {"values": [{}]}, "mark": {"type": "text", "text": "- AIP", "fontSize": 12.5, "align": "left", "color": "#000000"}, "encoding": {"x": {"datum": 1.79}, "y": {"datum": 23}}},
          {"data": {"values": [{}]}, "mark": {"type": "text", "text": "▲", "font": "DejaVu Sans", "fontSize": 8, "color": "#3a4aad"}, "encoding": {"x": {"datum": 1.724}, "y": {"datum": 14.4}}},
          {"data": {"values": [{}]}, "mark": {"type": "text", "text": "+ AIP", "fontSize": 12.5, "align": "left", "color": "#000000"}, "encoding": {"x": {"datum": 1.79}, "y": {"datum": 14.4}}}
        ]
      },
      {
        "width": 233, "height": 230,
        "title": {"text": "Sub-epicardium", "frame": "group"},
        "layer": [
          {"data": {"name": "bars"},
           "transform": [{"filter": "datum.measure==='ttp'&&datum.region==='epi'"}, {"calculate": "datum.region+'-'+datum.group", "as": "series"}, {"calculate": "(datum.group==='Cryo'?1:0)+(datum.aip==='+AIP'?0.185:-0.185)", "as": "pos"}],
           "mark": {"type": "bar", "orient": "vertical", "fill": "white", "strokeWidth": 4.5, "width": 26.5},
           "encoding": {
             "x": {"field": "pos", "type": "quantitative", "scale": {"domain": [-0.4472, 1.4472], "nice": false, "zero": false}, "axis": {"title": null, "values": [0, 1], "labelExpr": "datum.value===0?'Control':'Cryo'"}},
             "y": {"field": "mean", "type": "quantitative", "scale": {"domain": [0, 100], "nice": false}, "axis": {"title": "(ms)", "values": [0, 20, 40, 60, 80, 100]}},
             "stroke": {"field": "series", "type": "nominal", "scale": {"domain": ["endo-Control", "endo-Cryo", "epi-Control", "epi-Cryo"], "range": ["#000000", "#e3242b", "#8c8c8c", "#e58585"]}, "legend": null}
           }},
          {"data": {"name": "bars"},
           "transform": [{"filter": "datum.measure==='ttp'&&datum.region==='epi'"}, {"calculate": "datum.region+'-'+datum.group", "as": "series"}, {"calculate": "(datum.group==='Cryo'?1:0)+(datum.aip==='+AIP'?0.185:-0.185)", "as": "pos"}],
           "mark": {"type": "errorbar", "ticks": true, "size": 17, "thickness": 2},
           "encoding": {
             "x": {"field": "pos", "type": "quantitative", "title": null},
             "y": {"field": "mean", "type": "quantitative", "title": "(ms)"},
             "yError": {"field": "sem"},
             "color": {"field": "series", "type": "nominal", "scale": {"domain": ["endo-Control", "endo-Cryo", "epi-Control", "epi-Cryo", "+AIP"], "range": ["#000000", "#e3242b", "#8c8c8c", "#e58585", "#3a4aad"]}, "legend": null}
           }},
          {"data": {"name": "points"},
           "transform": [
             {"filter": "datum.measure==='ttp'&&datum.region==='epi'"},
             {"calculate": "floor(datum.value/4)", "as": "bin"},
             {"joinaggregate": [{"op": "count", "as": "n"}], "groupby": ["group", "aip", "bin"]},
             {"window": [{"op": "row_number", "as": "k"}], "groupby": ["group", "aip", "bin"], "sort": [{"field": "value", "order": "ascending"}]},
             {"calculate": "(datum.group==='Cryo'?1:0)+(datum.aip==='+AIP'?0.185:-0.185)+(datum.k-(datum.n+1)/2)*0.085", "as": "px"},
             {"calculate": "datum.aip==='+AIP'?'+AIP':datum.region+'-'+datum.group", "as": "series"}
           ],
           "mark": {"type": "point", "shape": "triangle-up", "filled": true, "size": 85, "opacity": 1},
           "encoding": {
             "x": {"field": "px", "type": "quantitative", "title": null},
             "y": {"field": "value", "type": "quantitative", "title": "(ms)"},
             "color": {"field": "series", "type": "nominal", "legend": null}
           }},
          {"data": {"values": [{}]}, "mark": {"type": "text", "text": "▲", "font": "DejaVu Sans", "fontSize": 8, "color": "#e58585"}, "encoding": {"x": {"datum": 1.61}, "y": {"datum": 20}}},
          {"data": {"values": [{}]}, "mark": {"type": "text", "text": "▲", "font": "DejaVu Sans", "fontSize": 8, "color": "#8c8c8c"}, "encoding": {"x": {"datum": 1.691}, "y": {"datum": 20}}},
          {"data": {"values": [{}]}, "mark": {"type": "text", "text": "- AIP", "fontSize": 12.5, "align": "left", "color": "#000000"}, "encoding": {"x": {"datum": 1.772}, "y": {"datum": 20}}},
          {"data": {"values": [{}]}, "mark": {"type": "text", "text": "▲", "font": "DejaVu Sans", "fontSize": 8, "color": "#3a4aad"}, "encoding": {"x": {"datum": 1.691}, "y": {"datum": 9.6}}},
          {"data": {"values": [{}]}, "mark": {"type": "text", "text": "+ AIP", "fontSize": 12.5, "align": "left", "color": "#000000"}, "encoding": {"x": {"datum": 1.772}, "y": {"datum": 9.6}}}
        ]
      }
    ]
  }
]
}
